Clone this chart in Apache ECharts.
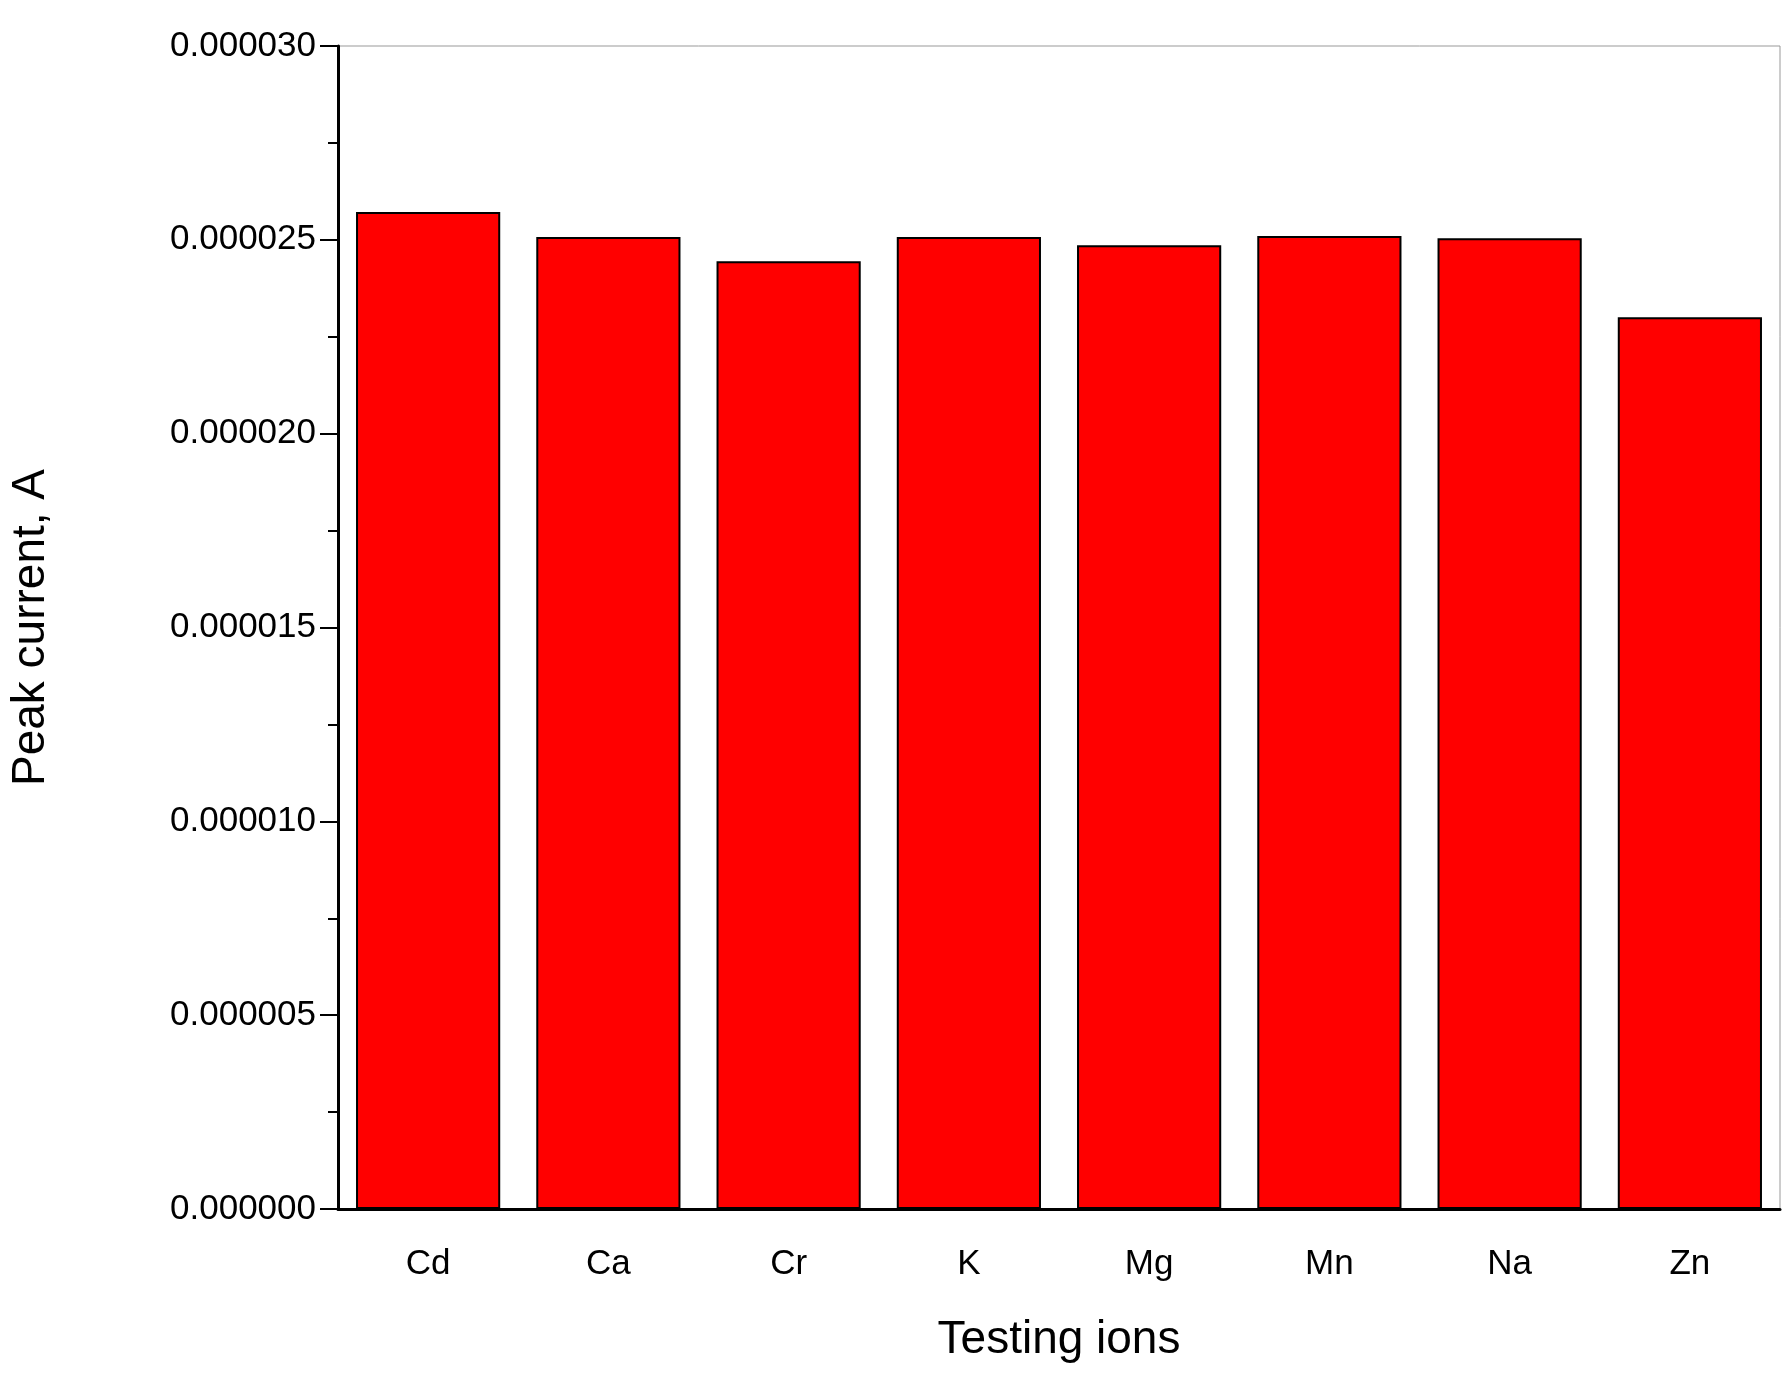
<!DOCTYPE html>
<html>
<head>
<meta charset="utf-8">
<script src="https://cdn.jsdelivr.net/npm/echarts@6/dist/echarts.min.js"></script>
<style>html,body{margin:0;background:#fff}</style>
</head>
<body>
<div id="main" style="width:1788px;height:1393px"></div>
<script>
// ions tested and measured peak current (A)
const ions = ['Cd', 'Ca', 'Cr', 'K', 'Mg', 'Mn', 'Na', 'Zn'];
const peakCurrent = [25.72e-6, 25.07e-6, 24.45e-6, 25.07e-6, 24.86e-6, 25.1e-6, 25.04e-6, 23.0e-6];

const font = 'Liberation Sans, Arial, sans-serif';
const chart = echarts.init(document.getElementById('main'));
chart.setOption({
  animation: false,
  grid: { left: 323, right: 8, top: 46, bottom: 184, show: true, borderColor: '#999', borderWidth: 1 },
  xAxis: [
    {
      type: 'category', data: ions,
      name: 'Testing ions', nameLocation: 'middle', nameGap: 108,
      nameTextStyle: { fontFamily: font, fontSize: 46, color: '#000' },
      axisLine: { lineStyle: { color: '#000', width: 3 } },
      axisTick: { interval: 0, length: 10, lineStyle: { color: '#000', width: 2 } },
      axisLabel: { fontFamily: font, fontSize: 35, color: '#000', margin: 38 }
    },
    {
      type: 'category', data: ions, position: 'bottom',
      axisLine: { show: false }, axisLabel: { show: false },
      axisTick: { alignWithLabel: true, interval: 0, length: 18, lineStyle: { color: '#000', width: 2 } }
    }
  ],
  yAxis: {
    type: 'value', min: 0, max: 30e-6, interval: 5e-6,
    name: 'Peak current, A', nameLocation: 'middle', nameGap: 284,
    nameTextStyle: { fontFamily: font, fontSize: 46, color: '#000' },
    axisLine: { show: true, lineStyle: { color: '#000', width: 3 } },
    axisTick: { show: true, length: 18, lineStyle: { color: '#000', width: 2 } },
    minorTick: { show: true, splitNumber: 2, length: 10, lineStyle: { color: '#000', width: 2 } },
    splitLine: { show: false },
    axisLabel: { fontFamily: font, fontSize: 35, color: '#000', margin: 22, formatter: v => v.toFixed(6) }
  },
  series: [{
    type: 'bar', data: peakCurrent, barCategoryGap: '20%',
    itemStyle: { color: '#ff0000', borderColor: '#000', borderWidth: 2 }
  }]
});
</script>
</body>
</html>
